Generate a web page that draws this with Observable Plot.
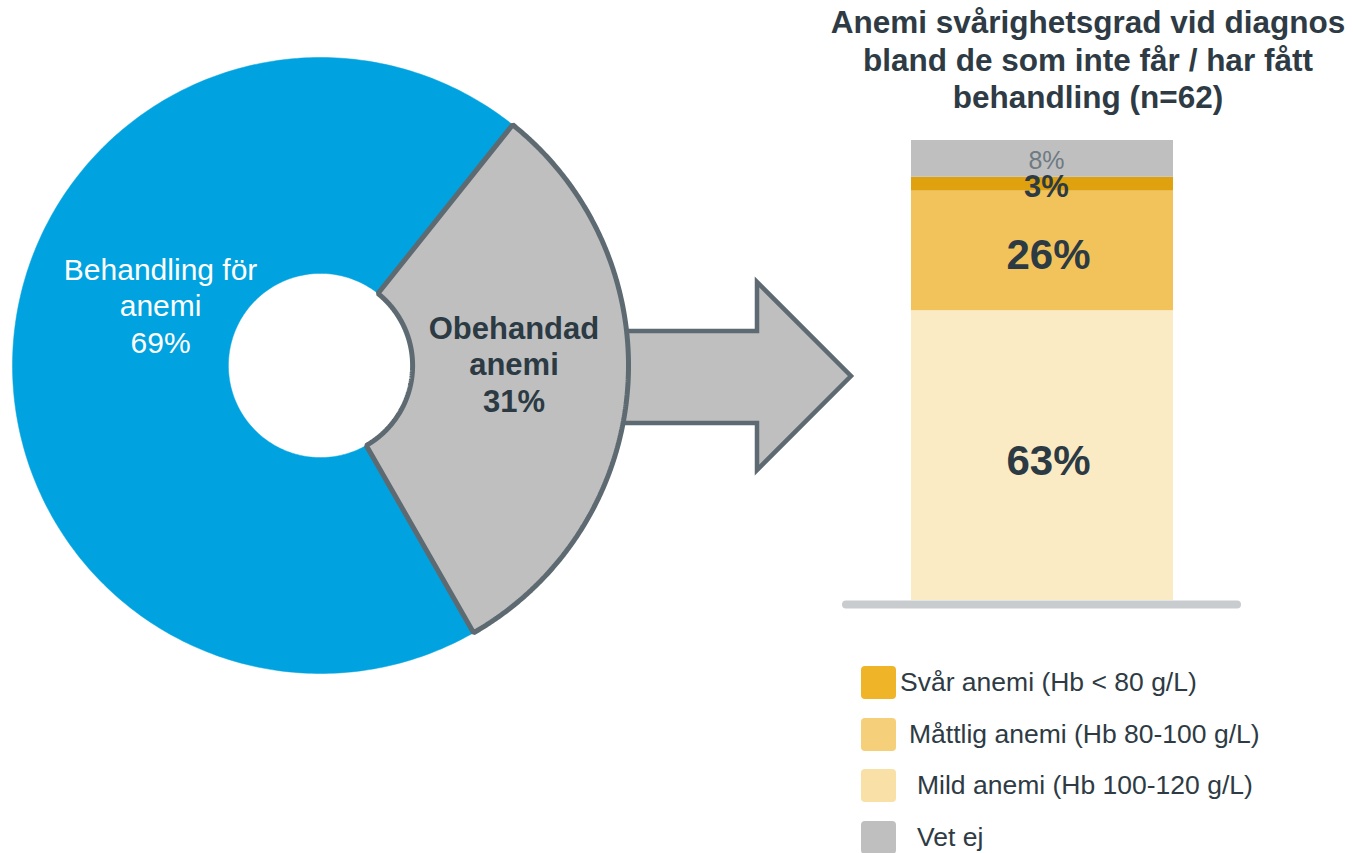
<!DOCTYPE html>
<html><head><meta charset="utf-8">
<script src="https://cdn.jsdelivr.net/npm/d3@7"></script>
<script src="https://cdn.jsdelivr.net/npm/@observablehq/plot@0.6"></script>
<style>
html,body{margin:0;padding:0;background:#fff;}
body{width:1353px;height:853px;position:relative;overflow:hidden;font-family:"Liberation Sans",Arial,sans-serif;}
#arrow{position:absolute;left:0;top:0;}
#donut{position:absolute;left:0;top:45px;}
#bar{position:absolute;left:800px;top:120px;}
#title{position:absolute;left:788px;width:600px;top:4px;text-align:center;font-weight:bold;font-size:31.5px;line-height:37.5px;color:#2e3b44;}
#legend{position:absolute;left:861px;top:666px;}
.row{display:flex;align-items:center;height:33px;margin-bottom:18.5px;}
.sw{width:35px;height:33px;border-radius:4px;flex:none;}
.lab{font-size:26.5px;color:#2e3b44;white-space:nowrap;}
</style></head><body>
<svg id="arrow" width="1353" height="853"><polygon points="600,331 757,331 757,282 851,376 757,470 757,423 600,423" fill="#bfbfbf" stroke="#5e6a71" stroke-width="4.5" stroke-linejoin="miter"/></svg>
<div id="donut"></div>
<div id="title"></div>
<div id="bar"></div>
<div id="legend"></div>
<script>
// ---- data ----
const donutCategories = ["Behandling för anemi", "Obehandad anemi"];
const donutLabels = ["Behandling för\nanemi", "Obehandad\nanemi"];
const donutValues = [69, 31];
const donutColors = ["#00a3df", "#bfbfbf"];

const titleLines = ["Anemi svårighetsgrad vid diagnos", "bland de som inte får / har fått", "behandling (n=62)"];
const barGroup = "Obehandlad anemi (n=62)";
const severityCategories = ["Mild anemi (Hb 100-120 g/L)", "Måttlig anemi (Hb 80-100 g/L)", "Svår anemi (Hb < 80 g/L)", "Vet ej"];
const severityValues = [63, 26, 3, 8];
const barColors = ["#fbebc5", "#f3c35b", "#e0a10f", "#bfbfbf"];
const legendOrder = ["Svår anemi (Hb < 80 g/L)", "Måttlig anemi (Hb 80-100 g/L)", "Mild anemi (Hb 100-120 g/L)", "Vet ej"];
const legendColors = ["#f0b429", "#f5cf79", "#f9e0a7", "#bfbfbf"];

const fontFamily = '"Liberation Sans", Arial, sans-serif';
const dark = "#2c3a44";

// ---- donut ----
const startDeg = 150.2, R = 1, r0 = 0.299, ext = 320 / 308;
const total = d3.sum(donutValues);
let acc = startDeg;
const slices = donutValues.map((v, i) => {
  const a0 = acc, a1 = acc + v / total * 360; acc = a1;
  return {i, a0, a1, mid: (a0 + a1) / 2, value: v, label: donutLabels[i]};
});
function ring(s) {
  const pts = [], n = 300;
  for (let k = 0; k <= n; k++) { const a = (s.a0 + (s.a1 - s.a0) * k / n) * Math.PI / 180; pts.push({x: R * Math.sin(a), y: R * Math.cos(a)}); }
  for (let k = n; k >= 0; k--) { const a = (s.a0 + (s.a1 - s.a0) * k / n) * Math.PI / 180; pts.push({x: r0 * Math.sin(a), y: r0 * Math.cos(a)}); }
  return pts;
}
const lx = (s, f) => f * Math.sin(s.mid * Math.PI / 180);
const ly = (s, f) => f * Math.cos(s.mid * Math.PI / 180);

const donut = Plot.plot({
  width: 640, height: 640, margin: 0,
  x: {domain: [-ext, ext], axis: null},
  y: {domain: [-ext, ext], axis: null},
  style: {background: "transparent", overflow: "visible", fontFamily},
  marks: [
    Plot.line(ring(slices[0]), {x: "x", y: "y", fill: donutColors[0], stroke: donutColors[0], strokeWidth: 0.5, curve: "linear-closed"}),
    Plot.line(ring(slices[1]), {x: "x", y: "y", fill: donutColors[1], stroke: "#5e6a71", strokeWidth: 5, strokeLinejoin: "miter", curve: "linear-closed"}),
    Plot.text([slices[0]], {x: d => lx(d, 0.55), y: d => ly(d, 0.55), text: d => d.label + "\n" + d.value + "%", fill: "white", fontSize: 30, lineHeight: 1.22, dx: 9, dy: -48}),
    Plot.text([slices[1]], {x: d => lx(d, 0.63), y: d => ly(d, 0.63), text: d => d.label + "\n" + d.value + "%", fill: dark, fontWeight: "bold", fontSize: 31, lineHeight: 1.18, dy: -17})
  ]
});
document.getElementById("donut").appendChild(donut);

// ---- title ----
document.getElementById("title").innerHTML = titleLines.join("<br>");

// ---- stacked bar ----
const rows = severityCategories.map((c, i) => ({group: barGroup, category: c, value: severityValues[i]}));
const ends = d3.cumsum(severityValues);
const labelRows = rows.map((d, i) => ({...d, mid: ends[i] - d.value / 2}));
const labelStyles = [
  {fontSize: 42, fontWeight: "bold", fill: dark, dx: 6, dy: 6},
  {fontSize: 42, fontWeight: "bold", fill: dark, dx: 6, dy: 5},
  {fontSize: 31, fontWeight: "bold", fill: dark, dx: 4, dy: 3},
  {fontSize: 25, fontWeight: "normal", fill: "#6f7a82", dx: 4, dy: 2}
];
const bar = Plot.plot({
  width: 500, height: 500, marginLeft: 46, marginRight: 63, marginTop: 20, marginBottom: 20,
  x: {domain: [barGroup], axis: null, paddingInner: 0, paddingOuter: 0.246},
  y: {domain: [0, 100], axis: null},
  color: {domain: severityCategories, range: barColors},
  style: {background: "transparent", overflow: "visible", fontFamily},
  marks: [
    Plot.barY(rows, {x: "group", y: "value", fill: "category"}),
    Plot.ruleY([0], {stroke: "#c9ccce", strokeWidth: 8, strokeLinecap: "round", dy: 4}),
    ...labelRows.map((d, i) => Plot.text([d], {x: "group", y: "mid", text: r => r.value + "%", ...labelStyles[i]}))
  ]
});
document.getElementById("bar").appendChild(bar);

// ---- legend ----
const indents = [4, 13, 21, 21];
const legend = document.getElementById("legend");
legendOrder.forEach((c, i) => {
  const row = document.createElement("div"); row.className = "row";
  const sw = document.createElement("div"); sw.className = "sw"; sw.style.background = legendColors[i];
  const lab = document.createElement("div"); lab.className = "lab"; lab.style.marginLeft = indents[i] + "px"; lab.textContent = c;
  row.appendChild(sw); row.appendChild(lab); legend.appendChild(row);
});
</script>
</body></html>
